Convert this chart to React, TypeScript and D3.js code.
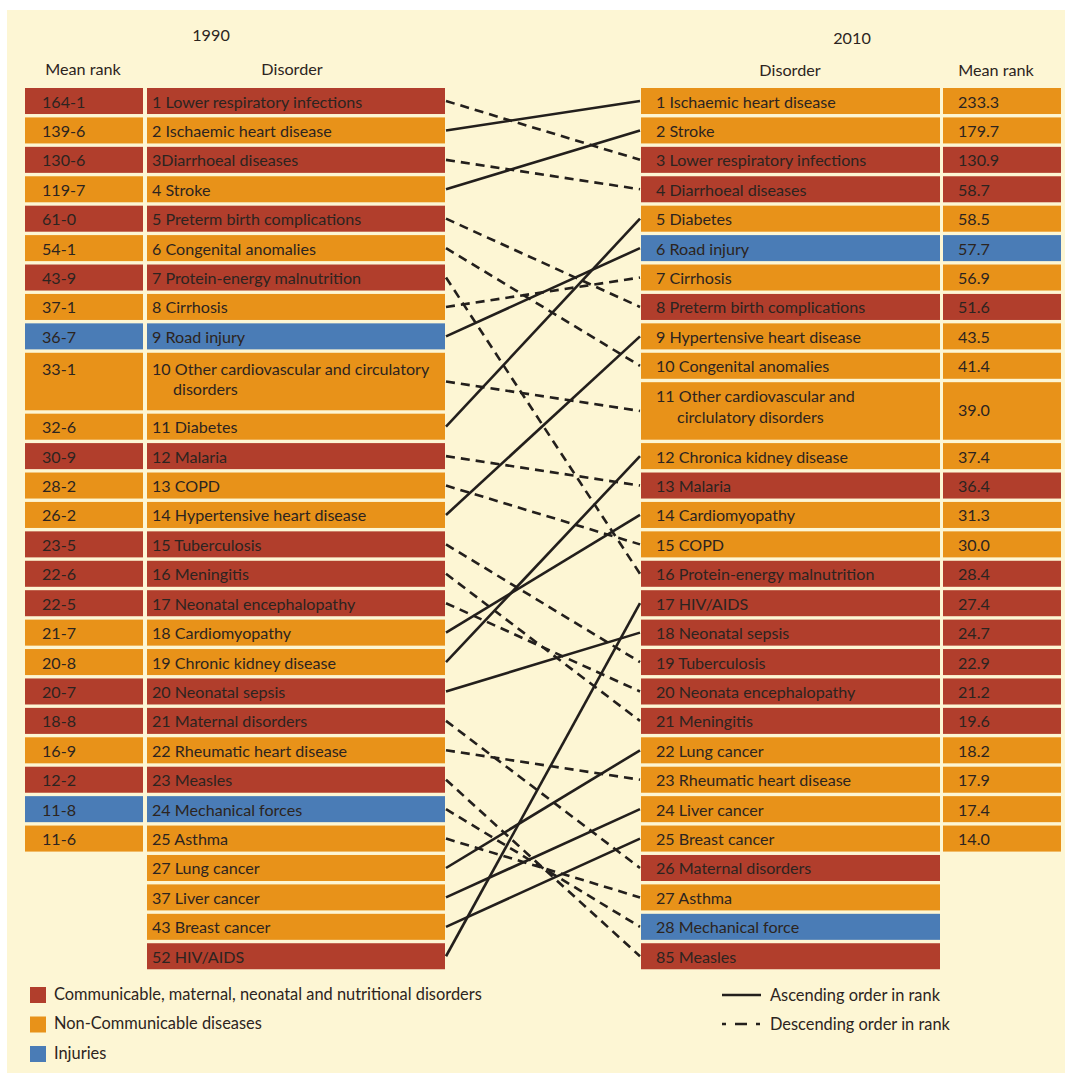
import React from "react";
import * as d3 from "d3";

// ---------- data ----------
const categories = ["C", "N", "I"];
const categoryColors = ["#B13E2C", "#E89219", "#4A7CB6"];
const categoryLabels = [
  "Communicable, maternal, neonatal and nutritional disorders",
  "Non-Communicable diseases",
  "Injuries",
];

const disorders1990 = [
  "1 Lower respiratory infections", "2 Ischaemic heart disease", "3Diarrhoeal diseases", "4 Stroke",
  "5 Preterm birth complications", "6 Congenital anomalies", "7 Protein-energy malnutrition", "8 Cirrhosis",
  "9 Road injury", "10 Other cardiovascular and circulatory|disorders", "11 Diabetes", "12 Malaria",
  "13 COPD", "14 Hypertensive heart disease", "15 Tuberculosis", "16 Meningitis",
  "17 Neonatal encephalopathy", "18 Cardiomyopathy", "19 Chronic kidney disease", "20 Neonatal sepsis",
  "21 Maternal disorders", "22 Rheumatic heart disease", "23 Measles", "24 Mechanical forces",
  "25 Asthma", "27 Lung cancer", "37 Liver cancer", "43 Breast cancer", "52 HIV/AIDS",
];
const category1990 = [
  "C", "N", "C", "N", "C", "N", "C", "N", "I", "N", "N", "C", "N", "N", "C", "C",
  "C", "N", "N", "C", "C", "N", "C", "I", "N", "N", "N", "N", "C",
];
const meanRank1990 = [
  "164-1", "139-6", "130-6", "119-7", "61-0", "54-1", "43-9", "37-1", "36-7", "33-1",
  "32-6", "30-9", "28-2", "26-2", "23-5", "22-6", "22-5", "21-7", "20-8", "20-7",
  "18-8", "16-9", "12-2", "11-8", "11-6",
];

const disorders2010 = [
  "1 Ischaemic heart disease", "2 Stroke", "3 Lower respiratory infections", "4 Diarrhoeal diseases",
  "5 Diabetes", "6 Road injury", "7 Cirrhosis", "8 Preterm birth complications",
  "9 Hypertensive heart disease", "10 Congenital anomalies", "11 Other cardiovascular and|circlulatory disorders",
  "12 Chronica kidney disease", "13 Malaria", "14 Cardiomyopathy", "15 COPD",
  "16 Protein-energy malnutrition", "17 HIV/AIDS", "18 Neonatal sepsis", "19 Tuberculosis",
  "20 Neonata encephalopathy", "21 Meningitis", "22 Lung cancer", "23 Rheumatic heart disease",
  "24 Liver cancer", "25 Breast cancer", "26 Maternal disorders", "27 Asthma",
  "28 Mechanical force", "85 Measles",
];
const category2010 = [
  "N", "N", "C", "C", "N", "I", "N", "C", "N", "N", "N", "N", "C", "N", "N", "C",
  "C", "C", "C", "C", "C", "N", "N", "N", "N", "C", "N", "I", "C",
];
const meanRank2010 = [
  "233.3", "179.7", "130.9", "58.7", "58.5", "57.7", "56.9", "51.6", "43.5", "41.4",
  "39.0", "37.4", "36.4", "31.3", "30.0", "28.4", "27.4", "24.7", "22.9", "21.2",
  "19.6", "18.2", "17.9", "17.4", "14.0",
];

// link: index in 1990 list -> index in 2010 list, and line style as drawn
const linkTargets = [2, 0, 3, 1, 7, 9, 15, 6, 5, 10, 4, 12, 14, 8, 18, 20, 19, 13, 11, 17, 25, 22, 28, 27, 26, 21, 23, 24, 16];
const linkStyles = [
  "desc", "asc", "desc", "asc", "desc", "desc", "desc", "desc", "asc", "desc",
  "asc", "desc", "desc", "asc", "desc", "desc", "desc", "asc", "asc", "asc",
  "desc", "desc", "desc", "desc", "desc", "asc", "asc", "asc", "asc",
];
const lineLegend = ["Ascending order in rank", "Descending order in rank"];

// ---------- layout ----------
const W = 1065;
const H = 1075;
const PITCH = 29.42;
const GAP = 3.4;
const TOP = 88;
const TEXT = "#2C2420";
const LINE = "#231F1C";
const FONT = "Lato, 'Open Sans', sans-serif";

function rowLayout(labels: string[]) {
  const units = labels.map((l) => (l.includes("|") ? 2.07 : 1));
  const cum = [0];
  units.forEach((u) => cum.push(cum[cum.length - 1] + u));
  const y = d3.scaleLinear().domain([0, cum[cum.length - 1]]).range([TOP, TOP + cum[cum.length - 1] * PITCH]);
  return labels.map((l, i) => {
    const top = y(cum[i]);
    const h = y(cum[i] + units[i]) - top - GAP;
    return { label: l, top, h, double: units[i] > 1, mid: top + h / 2 };
  });
}

const colorOf = (c: string) => categoryColors[categories.indexOf(c)];

export default function App() {
  const left = rowLayout(disorders1990);
  const right = rowLayout(disorders2010);

  const L_RANK_X = 25, L_RANK_W = 118;
  const L_DIS_X = 147, L_DIS_W = 298;
  const R_DIS_X = 641, R_DIS_W = 299;
  const R_RANK_X = 943, R_RANK_W = 118;

  const renderLabel = (r: any, x: number, indent: number, line1Off: number, line2Off: number) => {
    const parts = r.label.split("|");
    if (parts.length === 1) {
      return <text x={x} y={r.top + 19.5}>{parts[0]}</text>;
    }
    return (
      <>
        <text x={x} y={r.top + line1Off}>{parts[0]}</text>
        <text x={x + indent} y={r.top + line2Off}>{parts[1]}</text>
      </>
    );
  };

  return (
    <svg width={W} height={H} style={{ position: "absolute", left: 0, top: 0 }} fontFamily={FONT}>
      <rect x={0} y={0} width={W} height={H} fill="#ffffff" />
      <rect x={7} y={10} width={W - 7} height={1063} fill="#FDF6D4" />

      {/* headers */}
      <g fill={TEXT} fontSize={16.2} textAnchor="middle">
        <text x={211} y={41}>1990</text>
        <text x={83} y={75}>Mean rank</text>
        <text x={292} y={75}>Disorder</text>
        <text x={852} y={44}>2010</text>
        <text x={790} y={76}>Disorder</text>
        <text x={996} y={76}>Mean rank</text>
      </g>

      {/* links */}
      <g stroke={LINE} strokeWidth={2.6} fill="none">
        {linkTargets.map((t, i) => (
          <line
            key={i}
            x1={L_DIS_X + L_DIS_W + 1}
            y1={left[i].mid}
            x2={R_DIS_X - 1}
            y2={right[t].mid}
            strokeDasharray={linkStyles[i] === "desc" ? "9,6" : undefined}
          />
        ))}
      </g>

      {/* left boxes */}
      <g fontSize={16.1} fill={TEXT}>
        {left.map((r, i) => (
          <g key={"l" + i}>
            {i < meanRank1990.length && (
              <>
                <rect x={L_RANK_X} y={r.top} width={L_RANK_W} height={r.h} fill={colorOf(category1990[i])} />
                <text x={L_RANK_X + 17} y={r.top + (r.double ? 22 : 19.5)}>{meanRank1990[i]}</text>
              </>
            )}
            <rect x={L_DIS_X} y={r.top} width={L_DIS_W} height={r.h} fill={colorOf(category1990[i])} />
            {renderLabel(r, L_DIS_X + 5, 21, 22, 42)}
          </g>
        ))}
      </g>

      {/* right boxes */}
      <g fontSize={16.1} fill={TEXT}>
        {right.map((r, i) => (
          <g key={"r" + i}>
            <rect x={R_DIS_X} y={r.top} width={R_DIS_W} height={r.h} fill={colorOf(category2010[i])} />
            {renderLabel(r, R_DIS_X + 15, 21, 20, 41)}
            {i < meanRank2010.length && (
              <>
                <rect x={R_RANK_X} y={r.top} width={R_RANK_W} height={r.h} fill={colorOf(category2010[i])} />
                <text x={R_RANK_X + 15} y={r.double ? r.top + 34 : r.top + 19.5}>{meanRank2010[i]}</text>
              </>
            )}
          </g>
        ))}
      </g>

      {/* category legend */}
      <g fontSize={16.4} fill={TEXT}>
        {categoryLabels.map((l, i) => (
          <g key={l} transform={`translate(30, ${987 + i * 29.5})`}>
            <rect x={0} y={0} width={16} height={16} fill={categoryColors[i]} />
            <text x={24} y={12.5}>{l}</text>
          </g>
        ))}
      </g>

      {/* line legend */}
      <g fontSize={16.4} fill={TEXT}>
        {lineLegend.map((l, i) => (
          <g key={l} transform={`translate(722, ${995 + i * 29})`}>
            <line
              x1={0} x2={39} y1={0} y2={0}
              stroke={LINE} strokeWidth={2.6}
              strokeDasharray={i === 1 ? "4,9,12,9,4" : undefined}
            />
            <text x={48} y={5.5}>{l}</text>
          </g>
        ))}
      </g>
    </svg>
  );
}
